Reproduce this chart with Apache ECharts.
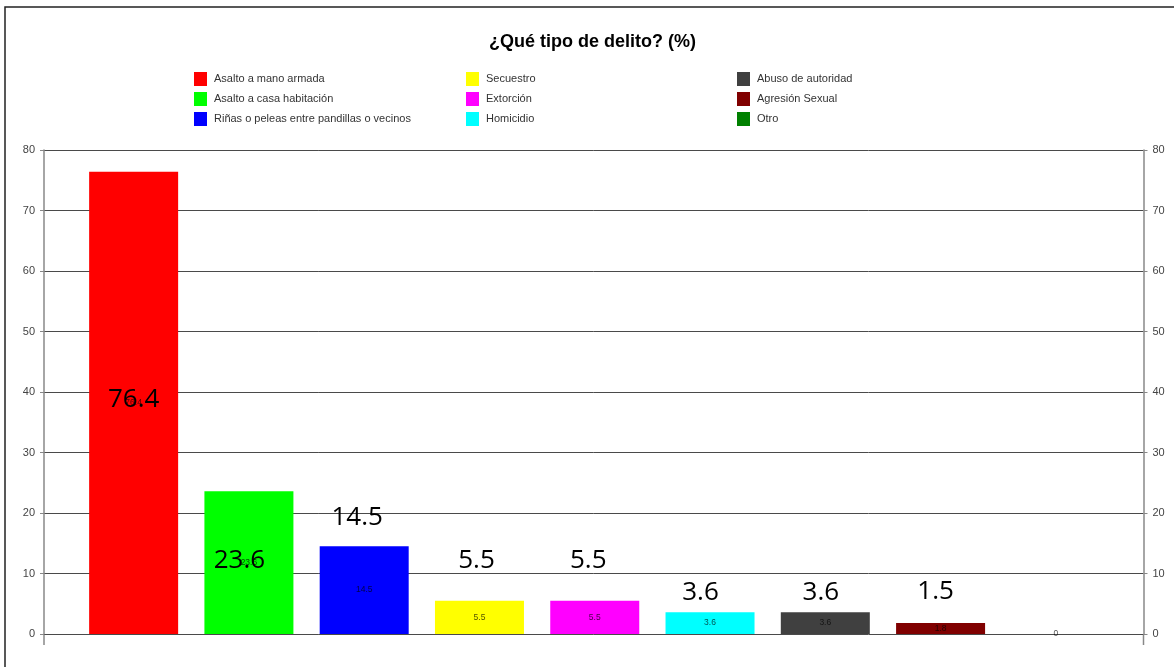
<!DOCTYPE html>
<html><head><meta charset="utf-8">
<script src="https://cdn.jsdelivr.net/npm/echarts@6/dist/echarts.min.js"></script>
<style>html,body{margin:0;padding:0;background:#fff}#c{width:1174px;height:667px}</style>
</head><body><div id="c"></div>
<script>
// ---- data ----
const categories = ['Asalto a mano armada','Asalto a casa habitación','Riñas o peleas entre pandillas o vecinos','Secuestro','Extorción','Homicidio','Abuso de autoridad','Agresión Sexual','Otro'];
const values = [76.4, 23.6, 14.5, 5.5, 5.5, 3.6, 3.6, 1.8, 0];
const overlayLabels = ['76.4','23.6','14.5','5.5','5.5','3.6','3.6','1.5',''];
const titleText = '¿Qué tipo de delito? (%)';
const legendColumns = [[0,1,2],[3,4,5],[6,7,8]];

// ---- style / layout ----
const colors = ['#FF0000','#00FF00','#0000FF','#FFFF00','#FF00FF','#00FFFF','#404040','#800000','#008000'];
const overlayOffsets = [[0,241],[-9.5,82],[-7,-16],[-3,-27.5],[-6.5,-27.5],[-9.5,-7],[-4.5,-7],[-5,-18.7],[0,0]];
const legendLeft = [194, 466, 737];
const FONT = 'Liberation Sans, Arial, sans-serif';

const chart = echarts.init(document.getElementById('c'), null, {renderer:'canvas'});

const barSeries = categories.map((name, i) => ({
  type:'bar', name, xAxisIndex:1, yAxisIndex:2, stack:'bars', barWidth:89, barGap:'-100%',
  data: values.map((v, j) => j === i ? v : '-'),
  itemStyle:{color: colors[i]},
  label:{show:true, position:'inside', fontSize:8.5, fontFamily:FONT, color:'rgba(0,0,0,0.7)', formatter: p => String(p.value)},
  emphasis:{disabled:true}, z:2
}));

const overlaySeries = {
  type:'bar', name:'overlay', xAxisIndex:1, yAxisIndex:2, stack:'overlay', barWidth:89, barGap:'-100%',
  data: values.map((v, j) => ({value:v, label:{offset: overlayOffsets[j]}})),
  itemStyle:{color:'rgba(0,0,0,0)'},
  label:{show:true, position:'top', distance:0, fontSize:26, fontFamily:'Open Sans, Noto Sans, sans-serif', color:'#000',
    formatter: p => overlayLabels[p.dataIndex]},
  silent:true, emphasis:{disabled:true}, z:5
};

const yAxisCommon = {
  gridIndex:0, type:'value', min:0, max:80, interval:10,
  axisLine:{show:true, lineStyle:{color:'#888', width:1.5}},
  axisTick:{show:true, length:4, lineStyle:{color:'#888'}},
  axisLabel:{margin:9, fontSize:11, color:'#444', fontFamily:FONT}
};

chart.setOption({
  animation:false,
  backgroundColor:'#fff',
  title:{text:titleText, left:489, top:33, padding:0,
    textStyle:{fontSize:18, fontWeight:'bold', color:'#000', fontFamily:FONT}},
  legend: legendColumns.map((col, k) => ({
    data: col.map(i => categories[i]), orient:'vertical', left: legendLeft[k], top:72, padding:0,
    itemWidth:13, itemHeight:14, itemGap:6, icon:'rect', selectedMode:false,
    textStyle:{fontSize:11, color:'#333', fontFamily:FONT, padding:[0,0,0,2]}
  })),
  grid:[
    {left:44, right:30.5, top:150, bottom:33},
    {left:76, right:60.5, top:150, bottom:33}
  ],
  xAxis:[
    {gridIndex:0, type:'value', min:0, max:1, show:false},
    {gridIndex:1, type:'category', data:categories, show:false}
  ],
  yAxis:[
    Object.assign({}, yAxisCommon, {position:'left', splitLine:{show:true, lineStyle:{color:'#4a4a4a', width:1}}}),
    Object.assign({}, yAxisCommon, {position:'right', splitLine:{show:false}}),
    {gridIndex:1, type:'value', min:0, max:80, interval:10, show:false, splitLine:{show:false}}
  ],
  graphic:[
    {type:'polyline', shape:{points:[[5,667],[5,7],[1174,7]]}, style:{stroke:'#222', lineWidth:1.5, fill:null}, silent:true},
    {type:'line', shape:{x1:44, y1:634, x2:44, y2:645}, style:{stroke:'#888', lineWidth:1.5}, silent:true},
    {type:'line', shape:{x1:1143.5, y1:634, x2:1143.5, y2:645}, style:{stroke:'#888', lineWidth:1.5}, silent:true}
  ],
  series: barSeries.concat([overlaySeries])
});
</script>
</body></html>
